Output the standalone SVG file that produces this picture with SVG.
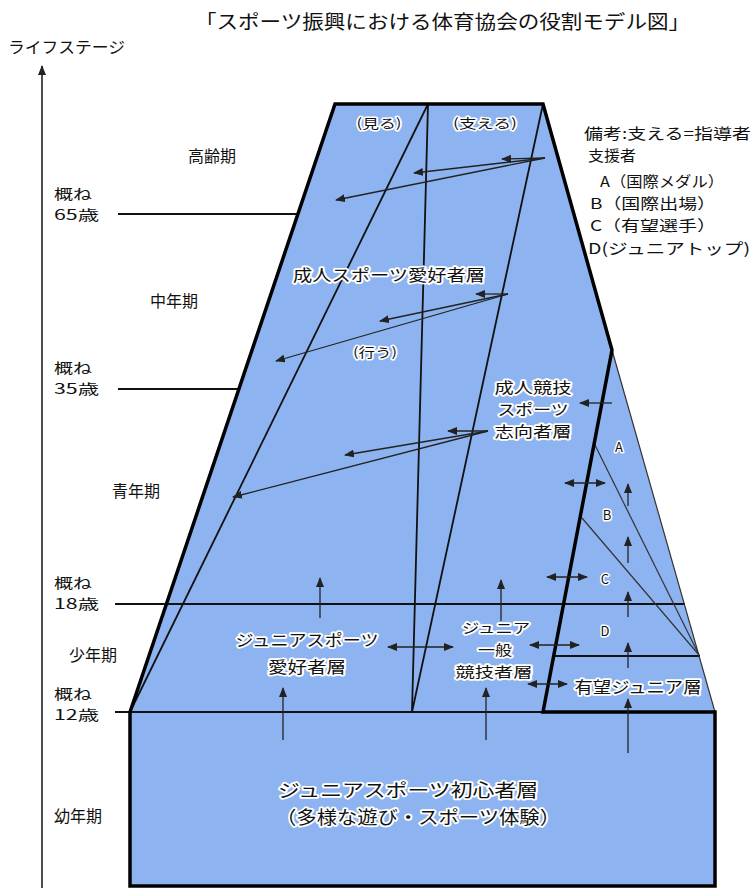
<svg xmlns="http://www.w3.org/2000/svg" width="755" height="892" viewBox="0 0 755 892">
<defs>
<style>
text{font-family:"Noto Sans CJK JP","Noto Sans",sans-serif;fill:#111;}
.t{font-size:19px;}
.l{font-size:16px;}
.a{font-size:14px;}
.b{font-size:16px;text-anchor:middle;stroke:#fff;stroke-width:3.5px;stroke-linejoin:round;paint-order:stroke;}
.m{font-size:15px;text-anchor:middle;stroke:#fff;stroke-width:3.5px;stroke-linejoin:round;paint-order:stroke;}
.n{font-size:14px;text-anchor:middle;stroke:#fff;stroke-width:3.5px;stroke-linejoin:round;paint-order:stroke;}
.s{font-size:13px;text-anchor:middle;stroke:#fff;stroke-width:3px;stroke-linejoin:round;paint-order:stroke;}
.g{font-size:15px;}
.big{font-size:18px;text-anchor:middle;stroke:#fff;stroke-width:3.5px;stroke-linejoin:round;paint-order:stroke;}
.ln{stroke:#111;stroke-width:1.8;fill:none;}
.thin{stroke:#333;stroke-width:1.2;fill:none;}
.ar{stroke:#222;stroke-width:1.3;fill:none;marker-end:url(#ah);}
.da{stroke:#222;stroke-width:1.3;fill:none;marker-end:url(#ah);marker-start:url(#ah);}
</style>
<marker id="ah" viewBox="0 0 10 8" refX="9" refY="4" markerWidth="10" markerHeight="8" markerUnits="userSpaceOnUse" orient="auto-start-reverse">
<path d="M0,0 L10,4 L0,8 z" fill="#222"/>
</marker>
</defs>
<rect width="755" height="892" fill="#fff"/>

<g id="title">
<text class="t" x="195" y="29" textLength="495" lengthAdjust="spacingAndGlyphs">「スポーツ振興における体育協会の役割モデル図」</text>
</g>

<g id="axis">
<text class="l" x="8" y="53" textLength="117" lengthAdjust="spacingAndGlyphs">ライフステージ</text>
<line x1="42" y1="888" x2="42" y2="66" stroke="#222" stroke-width="1.6" marker-end="url(#ah)"/>
</g>

<g id="stages">
<text class="l" x="188" y="162">高齢期</text>
<text class="a" x="54" y="199" textLength="38" lengthAdjust="spacingAndGlyphs">概ね</text>
<text class="a" x="54" y="220" textLength="45" lengthAdjust="spacingAndGlyphs">65歳</text>
<text class="l" x="150" y="307">中年期</text>
<text class="a" x="54" y="373" textLength="38" lengthAdjust="spacingAndGlyphs">概ね</text>
<text class="a" x="54" y="394" textLength="45" lengthAdjust="spacingAndGlyphs">35歳</text>
<text class="l" x="112" y="497">青年期</text>
<text class="a" x="54" y="588" textLength="38" lengthAdjust="spacingAndGlyphs">概ね</text>
<text class="a" x="54" y="609" textLength="45" lengthAdjust="spacingAndGlyphs">18歳</text>
<text class="l" x="69" y="661">少年期</text>
<text class="a" x="54" y="699" textLength="38" lengthAdjust="spacingAndGlyphs">概ね</text>
<text class="a" x="54" y="720" textLength="45" lengthAdjust="spacingAndGlyphs">12歳</text>
<text class="l" x="54" y="822">幼年期</text>
</g>

<g id="pyramid">
<path d="M130,712 L335,104 L543,104 L612,350 L715,712 L715,886 L130,886 Z" fill="#8db4f0"/>
</g>

<g id="connectors">
<line class="ln" x1="118" y1="214" x2="298" y2="214"/>
<line class="ln" x1="118" y1="389" x2="239" y2="389"/>
<line class="ln" x1="115" y1="604" x2="685" y2="604"/>
<line class="ln" x1="115" y1="712" x2="543" y2="712"/>
<line class="ln" x1="130" y1="712" x2="428" y2="104"/>
<line class="ln" x1="428" y1="104" x2="412" y2="712"/>
<line class="ln" x1="543" y1="104" x2="412" y2="712"/>
<line class="ln" x1="554" y1="656" x2="700" y2="656"/>
<line class="thin" x1="595" y1="445" x2="699" y2="655"/>
<line class="thin" x1="582" y1="518" x2="699" y2="655"/>
<line class="thin" x1="612" y1="350" x2="715" y2="712"/>
<path d="M130,712 L335,104 L543,104 L612,350 L543,712 L715,712 L715,886 L130,886 Z" fill="none" stroke="#000" stroke-width="3.5" stroke-linejoin="miter"/>

<line class="ar" x1="545" y1="158" x2="502" y2="159"/>
<line class="ar" x1="545" y1="158" x2="414" y2="173"/>
<line class="ar" x1="545" y1="158" x2="336" y2="200"/>
<line class="ar" x1="508" y1="294" x2="476" y2="294"/>
<line class="ar" x1="508" y1="294" x2="380" y2="321"/>
<line class="ar" x1="508" y1="294" x2="276" y2="361"/>
<line class="ar" x1="488" y1="431" x2="448" y2="431"/>
<line class="ar" x1="488" y1="431" x2="345" y2="455"/>
<line class="ar" x1="488" y1="431" x2="233" y2="497"/>
<line class="ar" x1="612" y1="403" x2="580" y2="403"/>

<line class="da" x1="565" y1="483" x2="605" y2="483"/>
<line class="da" x1="547" y1="577" x2="587" y2="577"/>
<line class="da" x1="530" y1="645" x2="579" y2="645"/>
<line class="da" x1="528" y1="684" x2="567" y2="684"/>
<line class="da" x1="388" y1="647" x2="453" y2="647"/>

<line class="ar" x1="320" y1="618" x2="320" y2="578"/>
<line class="ar" x1="501" y1="621" x2="501" y2="580"/>
<line class="ar" x1="283" y1="740" x2="283" y2="688"/>
<line class="ar" x1="486" y1="740" x2="486" y2="688"/>
<line class="ar" x1="628" y1="506" x2="628" y2="484"/>
<line class="ar" x1="628" y1="563" x2="628" y2="537"/>
<line class="ar" x1="628" y1="617" x2="628" y2="592"/>
<line class="ar" x1="628" y1="668" x2="628" y2="643"/>
<line class="ar" x1="628" y1="753" x2="628" y2="699"/>
</g>

<g id="node-miru"><text class="s" x="379" y="128" textLength="45" lengthAdjust="spacingAndGlyphs">(見る)</text></g>
<g id="node-sasaeru"><text class="s" x="485" y="128" textLength="64" lengthAdjust="spacingAndGlyphs">(支える)</text></g>
<g id="node-adult-hobby"><text class="b" x="389" y="281" textLength="192" lengthAdjust="spacingAndGlyphs">成人スポーツ愛好者層</text></g>
<g id="node-okonau"><text class="s" x="375" y="357" textLength="44" lengthAdjust="spacingAndGlyphs">(行う)</text></g>
<g id="node-adult-comp">
<text class="m" x="533" y="393" textLength="77" lengthAdjust="spacingAndGlyphs">成人競技</text>
<text class="m" x="533" y="415" textLength="71" lengthAdjust="spacingAndGlyphs">スポーツ</text>
<text class="m" x="533" y="437" textLength="77" lengthAdjust="spacingAndGlyphs">志向者層</text>
</g>
<g id="node-A"><text class="s" x="619" y="452">A</text></g>
<g id="node-B"><text class="s" x="607" y="520">B</text></g>
<g id="node-C"><text class="s" x="605" y="584">C</text></g>
<g id="node-D"><text class="s" x="605" y="636">D</text></g>
<g id="node-promising"><text class="b" x="638" y="693" textLength="127" lengthAdjust="spacingAndGlyphs">有望ジュニア層</text></g>
<g id="node-junior-hobby">
<text class="b" x="307" y="646" textLength="143" lengthAdjust="spacingAndGlyphs">ジュニアスポーツ</text>
<text class="b" x="307" y="673" textLength="78" lengthAdjust="spacingAndGlyphs">愛好者層</text>
</g>
<g id="node-junior-comp">
<text class="n" x="496" y="633" textLength="68" lengthAdjust="spacingAndGlyphs">ジュニア</text>
<text class="n" x="495" y="655" textLength="34" lengthAdjust="spacingAndGlyphs">一般</text>
<text class="n" x="494" y="677" textLength="77" lengthAdjust="spacingAndGlyphs">競技者層</text>
</g>
<g id="node-beginner">
<text class="big" x="408" y="797" textLength="260" lengthAdjust="spacingAndGlyphs">ジュニアスポーツ初心者層</text>
<text class="big" x="418" y="824" textLength="284" lengthAdjust="spacingAndGlyphs">（多様な遊び・スポーツ体験）</text>
</g>

<g id="legend">
<text class="g" x="584" y="139" textLength="167" lengthAdjust="spacingAndGlyphs">備考:支える=指導者</text>
<text class="g" x="588" y="161" textLength="48" lengthAdjust="spacingAndGlyphs">支援者</text>
<text class="g" x="600" y="187" textLength="124" lengthAdjust="spacingAndGlyphs">A（国際メダル）</text>
<text class="g" x="590" y="209" textLength="126" lengthAdjust="spacingAndGlyphs">B（国際出場）</text>
<text class="g" x="590" y="231" textLength="126" lengthAdjust="spacingAndGlyphs">C（有望選手）</text>
<text class="g" x="588" y="254" textLength="162" lengthAdjust="spacingAndGlyphs">D(ジュニアトップ)</text>
</g>
</svg>
